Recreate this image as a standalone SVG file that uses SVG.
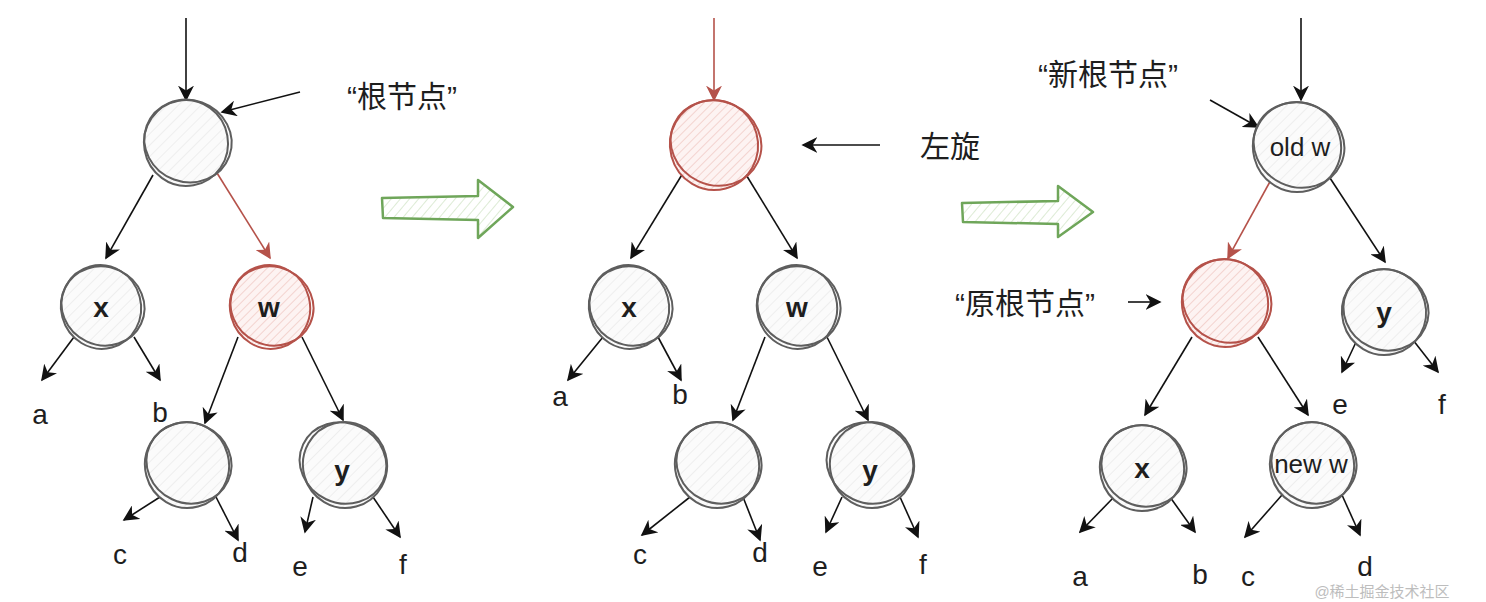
<svg xmlns="http://www.w3.org/2000/svg" width="1486" height="602" viewBox="0 0 1486 602">
<defs>
<pattern id="hg" patternUnits="userSpaceOnUse" width="8" height="8" patternTransform="rotate(45)">
<rect width="8" height="8" fill="#fbfbfb"/>
<line x1="0" y1="0" x2="0" y2="8" stroke="#e6e6e6" stroke-width="1.2"/>
</pattern>
<pattern id="hr" patternUnits="userSpaceOnUse" width="6" height="6" patternTransform="rotate(45)">
<rect width="6" height="6" fill="#fdf3f2"/>
<line x1="0" y1="0" x2="0" y2="6" stroke="#efc5c1" stroke-width="1.4"/>
</pattern>
<pattern id="hgr" patternUnits="userSpaceOnUse" width="7" height="7" patternTransform="rotate(40)">
<rect width="7" height="7" fill="#ffffff"/>
<line x1="0" y1="0" x2="0" y2="7" stroke="#cfe3c4" stroke-width="1.4"/>
</pattern>
<marker id="ar" viewBox="0 0 10 10" refX="9" refY="5" markerWidth="16" markerHeight="16" orient="auto" markerUnits="userSpaceOnUse">
<path d="M0,0 L10,5 L0,10 L3,5 Z" fill="#b5524a"/>
</marker>
<marker id="akL" viewBox="0 0 10 10" refX="9" refY="5" markerWidth="16" markerHeight="16" orient="auto" markerUnits="userSpaceOnUse">
<path d="M0,0 L10,5 L0,10 L3,5 Z" fill="#111"/>
</marker>
</defs>
<style>
.n circle.f{stroke:none}
.g .s{fill:none;stroke:#5e5e5e;stroke-width:2}
.r .s{fill:none;stroke:#b5524a;stroke-width:2}
.t{font-family:"Comic Sans MS","Liberation Sans",sans-serif;font-size:28px;fill:#1e1e1e;text-anchor:middle;dominant-baseline:central}
.b{font-weight:bold}
.tn{font-family:"Liberation Sans",sans-serif;font-size:26px;fill:#1e1e1e;text-anchor:middle;dominant-baseline:central}
.cj{font-family:"Liberation Sans","Noto Sans CJK SC",sans-serif;font-size:30px;fill:#1e1e1e;text-anchor:middle;dominant-baseline:central}
.c line{stroke:#111;stroke-width:1.6;marker-end:url(#akL)}
.c line.red{stroke:#b5524a;marker-end:url(#ar)}
.ga{fill:url(#hgr);stroke:#6fa65a;stroke-width:2.5;stroke-linejoin:round}
</style>
<rect width="1486" height="602" fill="#ffffff"/>

<!-- connectors -->
<g class="c" id="connectors">
<!-- panel 1 -->
<line x1="186" y1="18" x2="186" y2="100"/>
<line x1="300" y1="92" x2="222" y2="112"/>
<line x1="153" y1="175" x2="106" y2="258"/>
<line class="red" x1="217" y1="173" x2="270" y2="258"/>
<line x1="74" y1="337" x2="42" y2="380"/>
<line x1="134" y1="337" x2="160" y2="380"/>
<line x1="238" y1="337" x2="205" y2="423"/>
<line x1="302" y1="337" x2="343" y2="420"/>
<line x1="160" y1="497" x2="124" y2="520"/>
<line x1="216" y1="497" x2="238" y2="540"/>
<line x1="313" y1="497" x2="305" y2="532"/>
<line x1="373" y1="497" x2="400" y2="537"/>
<!-- panel 2 -->
<line class="red" x1="714" y1="18" x2="714" y2="100"/>
<line x1="880" y1="145" x2="803" y2="145"/>
<line x1="683" y1="173" x2="631" y2="258"/>
<line x1="745" y1="173" x2="797" y2="258"/>
<line x1="603" y1="337" x2="568" y2="380"/>
<line x1="658" y1="337" x2="681" y2="380"/>
<line x1="765" y1="337" x2="733" y2="420"/>
<line x1="827" y1="337" x2="868" y2="420"/>
<line x1="690" y1="497" x2="642" y2="535"/>
<line x1="743" y1="497" x2="760" y2="540"/>
<line x1="842" y1="497" x2="826" y2="532"/>
<line x1="900" y1="497" x2="918" y2="537"/>
<!-- panel 3 -->
<line x1="1301" y1="18" x2="1301" y2="100"/>
<line x1="1210" y1="100" x2="1258" y2="127"/>
<line class="red" x1="1272" y1="178" x2="1228" y2="258"/>
<line x1="1128" y1="302" x2="1160" y2="302"/>
<line x1="1330" y1="178" x2="1385" y2="262"/>
<line x1="1357" y1="340" x2="1342" y2="372"/>
<line x1="1413" y1="340" x2="1438" y2="372"/>
<line x1="1192" y1="337" x2="1145" y2="415"/>
<line x1="1258" y1="337" x2="1308" y2="415"/>
<line x1="1114" y1="497" x2="1080" y2="532"/>
<line x1="1170" y1="497" x2="1195" y2="532"/>
<line x1="1282" y1="495" x2="1245" y2="537"/>
<line x1="1342" y1="495" x2="1360" y2="535"/>
</g>

<!-- green transition arrows -->
<g id="arrow1"><path class="ga" d="M382,198 L478,196 L478,180 L513,207 L478,238 L478,220 L383,218 Z"/></g>
<g id="arrow2"><path class="ga" d="M962,203 L1058,201 L1058,186 L1093,212 L1058,237 L1058,224 L963,222 Z"/></g>

<!-- panel 1 nodes -->
<g id="p1root" class="n g"><circle class="f" cx="186" cy="143" r="42" fill="url(#hg)"/><ellipse class="s" cx="186" cy="143" rx="42" ry="43" transform="rotate(-10 186 143)"/><ellipse class="s" cx="188" cy="141" rx="44" ry="41" transform="rotate(20 188 141)"/></g>
<g id="p1x" class="n g"><circle class="f" cx="101" cy="307" r="40" fill="url(#hg)"/><ellipse class="s" cx="101" cy="307" rx="40" ry="42" transform="rotate(-15 101 307)"/><ellipse class="s" cx="103" cy="306" rx="42" ry="39" transform="rotate(25 103 306)"/><text class="t b" x="101" y="307">x</text></g>
<g id="p1w" class="n r"><circle class="f" cx="270" cy="307" r="40" fill="url(#hr)"/><ellipse class="s" cx="270" cy="307" rx="40" ry="42" transform="rotate(-15 270 307)"/><ellipse class="s" cx="272" cy="306" rx="42" ry="39" transform="rotate(25 272 306)"/><text class="t b" x="269" y="307">w</text></g>
<g id="p1c1" class="n g"><circle class="f" cx="187" cy="465" r="42" fill="url(#hg)"/><ellipse class="s" cx="187" cy="465" rx="42" ry="43" transform="rotate(-15 187 465)"/><ellipse class="s" cx="189" cy="463" rx="43" ry="40" transform="rotate(25 189 463)"/></g>
<g id="p1y" class="n g"><circle class="f" cx="345" cy="465" r="42" fill="url(#hg)"/><ellipse class="s" cx="345" cy="465" rx="42" ry="43" transform="rotate(-15 345 465)"/><ellipse class="s" cx="343" cy="463" rx="44" ry="40" transform="rotate(25 343 463)"/><text class="t b" x="342" y="470">y</text></g>
<g id="p1labels">
<text class="cj" x="402" y="96">“根节点”</text>
<text class="t" x="40" y="414">a</text><text class="t" x="160" y="412">b</text>
<text class="t" x="120" y="554">c</text><text class="t" x="240" y="552">d</text>
<text class="t" x="300" y="566">e</text><text class="t" x="403" y="564">f</text>
</g>

<!-- panel 2 nodes -->
<g id="p2root" class="n r"><circle class="f" cx="714" cy="145" r="44" fill="url(#hr)"/><ellipse class="s" cx="714" cy="145" rx="44" ry="45" transform="rotate(-15 714 145)"/><ellipse class="s" cx="716" cy="143" rx="46" ry="42" transform="rotate(25 716 143)"/></g>
<g id="p2x" class="n g"><circle class="f" cx="629" cy="307" r="40" fill="url(#hg)"/><ellipse class="s" cx="629" cy="307" rx="40" ry="42" transform="rotate(-15 629 307)"/><ellipse class="s" cx="631" cy="306" rx="42" ry="39" transform="rotate(25 631 306)"/><text class="t b" x="629" y="307">x</text></g>
<g id="p2w" class="n g"><circle class="f" cx="797" cy="307" r="40" fill="url(#hg)"/><ellipse class="s" cx="797" cy="307" rx="40" ry="42" transform="rotate(-15 797 307)"/><ellipse class="s" cx="799" cy="306" rx="42" ry="39" transform="rotate(25 799 306)"/><text class="t b" x="797" y="307">w</text></g>
<g id="p2c1" class="n g"><circle class="f" cx="717" cy="465" r="42" fill="url(#hg)"/><ellipse class="s" cx="717" cy="465" rx="42" ry="43" transform="rotate(-15 717 465)"/><ellipse class="s" cx="719" cy="463" rx="43" ry="40" transform="rotate(25 719 463)"/></g>
<g id="p2y" class="n g"><circle class="f" cx="872" cy="465" r="42" fill="url(#hg)"/><ellipse class="s" cx="872" cy="465" rx="42" ry="43" transform="rotate(-15 872 465)"/><ellipse class="s" cx="870" cy="463" rx="44" ry="40" transform="rotate(25 870 463)"/><text class="t b" x="870" y="470">y</text></g>
<g id="p2labels">
<text class="cj" x="950" y="146">左旋</text>
<text class="t" x="560" y="396">a</text><text class="t" x="680" y="394">b</text>
<text class="t" x="640" y="554">c</text><text class="t" x="760" y="552">d</text>
<text class="t" x="820" y="566">e</text><text class="t" x="923" y="564">f</text>
</g>

<!-- panel 3 nodes -->
<g id="p3oldw" class="n g"><circle class="f" cx="1297" cy="147" r="44" fill="url(#hg)"/><ellipse class="s" cx="1297" cy="147" rx="44" ry="45" transform="rotate(-15 1297 147)"/><ellipse class="s" cx="1299" cy="145" rx="46" ry="42" transform="rotate(25 1299 145)"/><text class="tn" x="1300" y="147">old w</text></g>
<g id="p3oldroot" class="n r"><circle class="f" cx="1225" cy="303" r="43" fill="url(#hr)"/><ellipse class="s" cx="1225" cy="303" rx="43" ry="44" transform="rotate(-15 1225 303)"/><ellipse class="s" cx="1227" cy="301" rx="45" ry="41" transform="rotate(25 1227 301)"/></g>
<g id="p3y" class="n g"><circle class="f" cx="1384" cy="312" r="42" fill="url(#hg)"/><ellipse class="s" cx="1384" cy="312" rx="42" ry="43" transform="rotate(-15 1384 312)"/><ellipse class="s" cx="1386" cy="310" rx="43" ry="40" transform="rotate(25 1386 310)"/><text class="t b" x="1384" y="312">y</text></g>
<g id="p3x" class="n g"><circle class="f" cx="1142" cy="468" r="42" fill="url(#hg)"/><ellipse class="s" cx="1142" cy="468" rx="42" ry="43" transform="rotate(-15 1142 468)"/><ellipse class="s" cx="1144" cy="466" rx="43" ry="40" transform="rotate(25 1144 466)"/><text class="t b" x="1142" y="468">x</text></g>
<g id="p3neww" class="n g"><circle class="f" cx="1312" cy="465" r="42" fill="url(#hg)"/><ellipse class="s" cx="1312" cy="465" rx="42" ry="43" transform="rotate(-15 1312 465)"/><ellipse class="s" cx="1314" cy="463" rx="43" ry="40" transform="rotate(25 1314 463)"/><text class="tn" x="1311" y="464">new w</text></g>
<g id="p3labels">
<text class="cj" x="1108" y="74">“新根节点”</text>
<text class="cj" x="1025" y="303">“原根节点”</text>
<text class="t" x="1340" y="404">e</text><text class="t" x="1442" y="404">f</text>
<text class="t" x="1080" y="576">a</text><text class="t" x="1200" y="574">b</text>
<text class="t" x="1248" y="576">c</text><text class="t" x="1365" y="566">d</text>
</g>
<text x="1382" y="597" style="font-family:'Liberation Sans','Noto Sans CJK SC',sans-serif;font-size:15px;fill:#bdbdbd;text-anchor:middle">@稀土掘金技术社区</text>
</svg>
